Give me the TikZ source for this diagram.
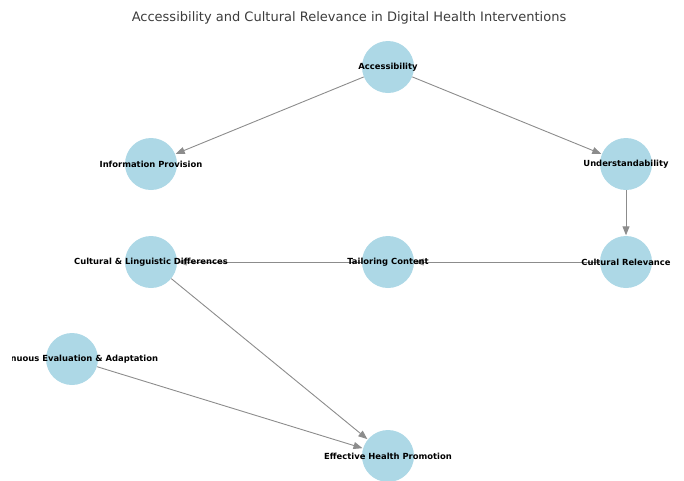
\documentclass[tikz,border=0pt]{standalone}
\usepackage{fontspec}
\setmainfont{DejaVu Sans}
\usetikzlibrary{arrows.meta}
\definecolor{nodefill}{HTML}{ADD8E6}
\definecolor{edgegray}{HTML}{8C8C8C}
\definecolor{titlegray}{HTML}{3C3C3C}
\begin{document}
\begin{tikzpicture}[x=1pt,y=-1pt,
  bubble/.style={circle,fill=nodefill,draw=none,minimum size=52pt,inner sep=0pt},
  tag/.style={font=\bfseries\fontsize{8.4}{9}\selectfont,text=black,inner sep=0pt},
  link/.style={draw=edgegray,line width=0.9pt,-{Triangle[length=9pt,width=7pt]},shorten >=0.5pt}]
\useasboundingbox (0,0) rectangle (684,480);
\clip (0,0) rectangle (684,480);
\node[font=\fontsize{13}{15}\selectfont,text=titlegray] (title) at (349,17.5) {Accessibility and Cultural Relevance in Digital Health Interventions};
% nodes
\node[bubble] (acc) at (388,67) {};
\node[bubble] (info) at (151,164) {};
\node[bubble] (und) at (626,164) {};
\node[bubble] (cld) at (151,262) {};
\node[bubble] (tail) at (388,262) {};
\node[bubble] (crel) at (626,262) {};
\node[bubble] (cont) at (72,359) {};
\node[bubble] (eff) at (388,456) {};
% edges
\draw[link] (acc) -- (info);
\draw[link] (acc) -- (und);
\draw[link] (und) -- (crel);
\draw[link] (crel) -- (tail);
\draw[link] (tail) -- (cld);
\draw[link] (cld) -- (eff);
\draw[link] (cont) -- (eff);
% labels, cut at the plot area's left edge
\begin{scope}
\clip (12.5,0) rectangle (684,480);
\node[tag] (accL) at (acc) {Accessibility};
\node[tag] (infoL) at (info) {Information Provision};
\node[tag] (undL) at (und) {Understandability};
\node[tag] (cldL) at (cld) {Cultural \& Linguistic Differences};
\node[tag] (tailL) at (tail) {Tailoring Content};
\node[tag] (crelL) at (crel) {Cultural Relevance};
\node[tag] (contL) at (cont) {Continuous Evaluation \& Adaptation};
\node[tag] (effL) at (eff) {Effective Health Promotion};
\end{scope}
\end{tikzpicture}
\end{document}
